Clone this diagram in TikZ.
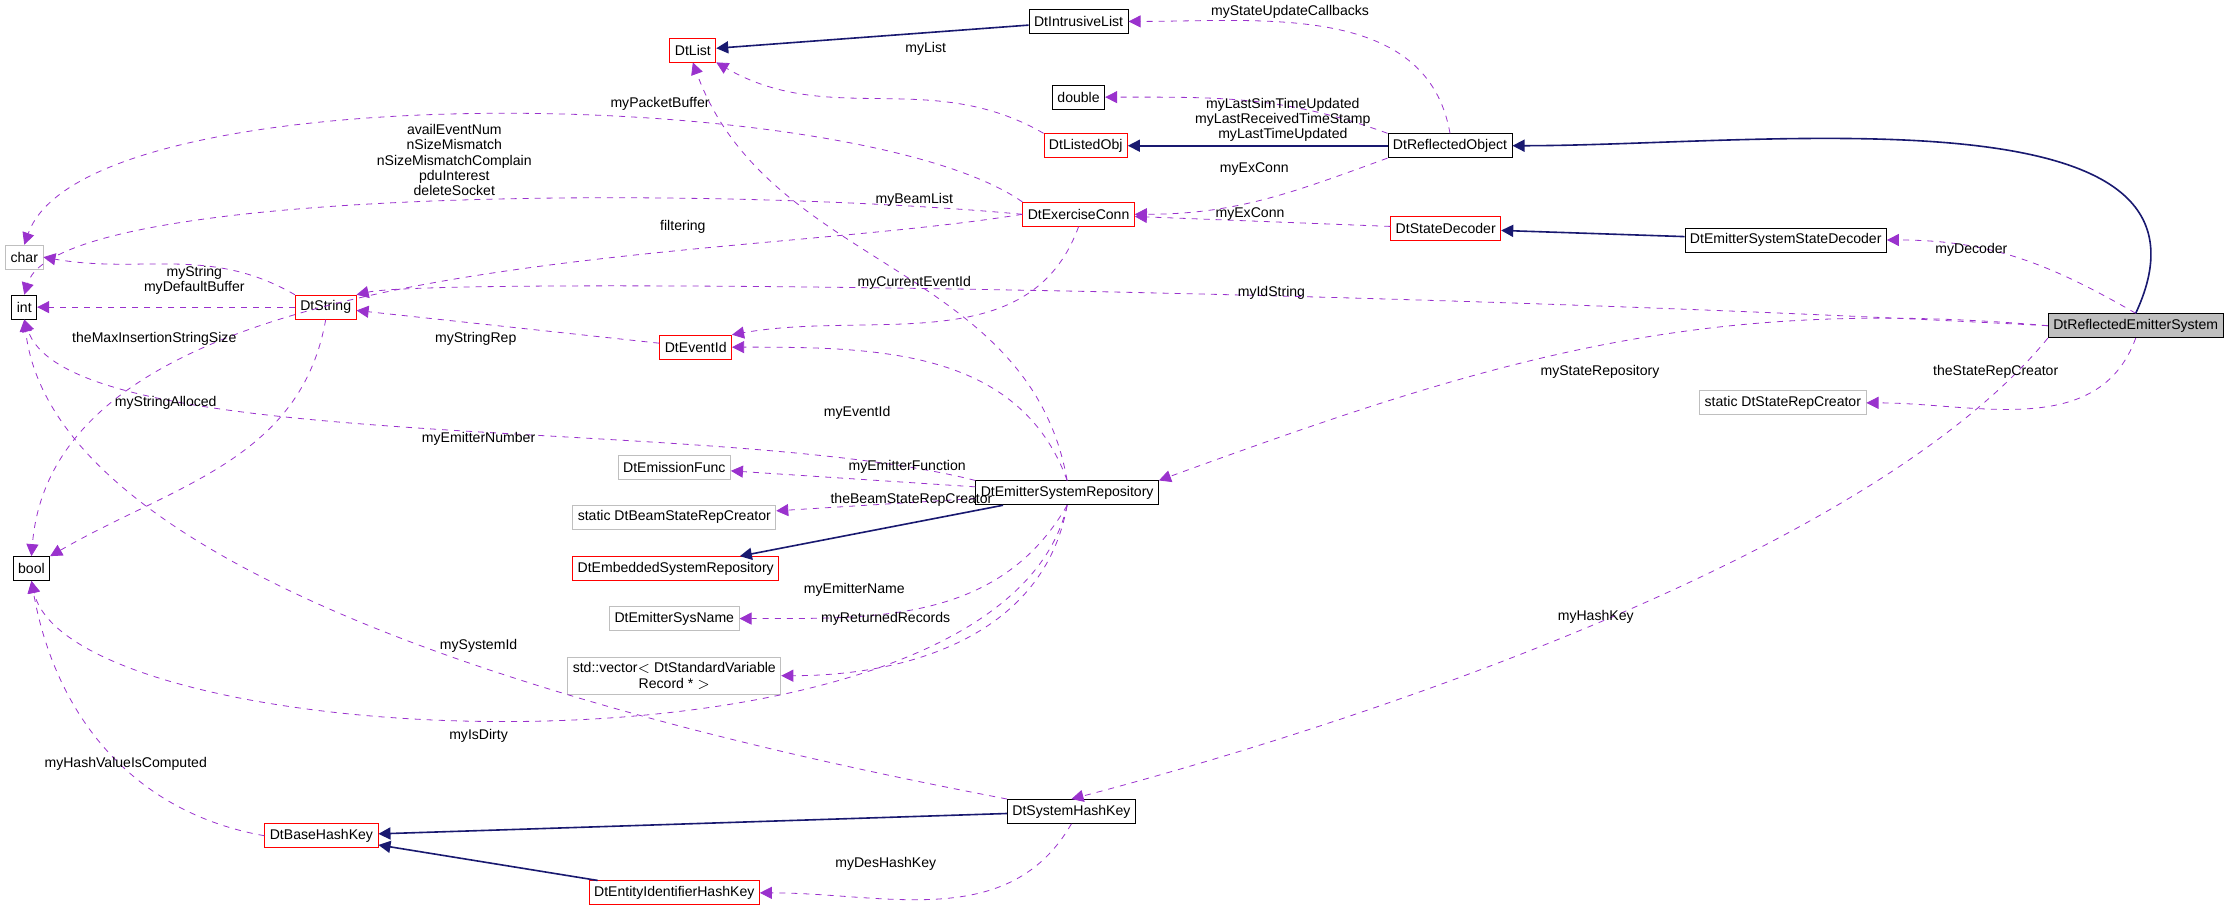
\documentclass[tikz,border=0pt]{standalone}
\usepackage{fontspec}
\setmainfont{Liberation Sans}
\usetikzlibrary{arrows.meta,positioning}
\definecolor{inhcol}{HTML}{191970}
\definecolor{usecol}{HTML}{9A32CD}
\tikzset{
  cls/.style={draw=black,fill=white,font=\fontsize{7}{8}\selectfont,inner sep=2.5pt,minimum height=0.42cm,align=center},
  redcls/.style={cls,draw=red},
  extcls/.style={cls,draw=black!25},
  curcls/.style={cls,fill=black!25},
  inh/.style={draw=inhcol,thick,-{Triangle[open,fill=inhcol,length=6pt,width=6pt]}},
  use/.style={draw=usecol,dashed,-{Triangle[fill=usecol,length=6pt,width=6pt]}},
  lbl/.style={font=\fontsize{7}{7.5}\selectfont,inner sep=0pt,align=center}
}
\begin{document}
\begin{tikzpicture}[x=0.025cm,y=-0.025cm]
\useasboundingbox (0,0) rectangle (1568,636);

% classes
\node[redcls] (list) at (485,35) {DtList};
\node[cls] (ilist) at (755,15) {DtIntrusiveList};
\node[cls] (dbl) at (755,68) {double};
\node[redcls] (lobj) at (760,102) {DtListedObj};
\node[cls] (robj) at (1015,102) {DtReflectedObject};
\node[redcls] (econn) at (755,150) {DtExerciseConn};
\node[redcls] (sdec) at (1012,160) {DtStateDecoder};
\node[cls] (essd) at (1250,168) {DtEmitterSystemStateDecoder};
\node[extcls] (chr) at (17,180) {char};
\node[cls] (int) at (17,215) {int};
\node[redcls] (str) at (228,215) {DtString};
\node[redcls] (evid) at (487,243) {DtEventId};
\node[curcls] (res) at (1495,228) {DtReflectedEmitterSystem};
\node[extcls] (srep) at (1248,282) {static DtStateRepCreator};
\node[extcls] (efunc) at (472,327) {DtEmissionFunc};
\node[cls] (esr) at (747,345) {DtEmitterSystemRepository};
\node[extcls] (bsrep) at (472,362) {static DtBeamStateRepCreator};
\node[redcls] (embr) at (473,398) {DtEmbeddedSystemRepository};
\node[cls] (bool) at (22,398) {bool};
\node[extcls] (sysn) at (472,433) {DtEmitterSysName};
\node[extcls] (vec) at (472,473) {std::vector$<$ DtStandardVariable\\Record * $>$};
\node[cls] (shk) at (750,568) {DtSystemHashKey};
\node[redcls] (bhk) at (225,585) {DtBaseHashKey};
\node[redcls] (eihk) at (472,625) {DtEntityIdentifierHashKey};

% inheritance
\draw[inh] (ilist) -- (list);
\draw[inh] (robj) -- (lobj);
\draw[inh] (res.north) to[out=65,in=0] (robj.east);
\draw[inh] (essd) -- (sdec);
\draw[inh] (esr) -- (embr);
\draw[inh] (shk) -- (bhk);
\draw[inh] (eihk) -- (bhk);

% usage
\draw[use] (robj.north) to[out=100,in=0] (ilist.east);
\draw[use] (robj.north west) to[out=160,in=0] (dbl.east);
\draw[use] (lobj.north west) to[out=150,in=-30] (list.south east);
\draw[use] (robj.south west) to[out=-160,in=0] (econn.east);
\draw[use] (sdec) -- (econn);
\draw[use] (econn.north west) .. controls (600,60) and (60,50) .. (chr.north);
\draw[use] (econn.west) .. controls (500,130) and (40,130) .. (int.north);
\draw[use] (econn.west) .. controls (500,185) and (40,170) .. (bool.north);
\draw[use] (econn.south) to[out=-110,in=10] (evid.north east);
\draw[use] (esr.north) to[out=100,in=-70] (list.south);
\draw[use] (res.west) .. controls (900,200) and (300,195) .. (str.north east);
\draw[use] (res.west) to[out=175,in=20] (esr.north east);
\draw[use] (res.south) to[out=-110,in=0] (srep.east);
\draw[use] (res.north) to[out=150,in=0] (essd.east);
\draw[use] (res.south west) .. controls (1300,400) and (900,520) .. (shk.north);
\draw[use] (str.north west) to[out=150,in=-10] (chr.east);
\draw[use] (str) -- (int);
\draw[use] (str.south) to[out=-100,in=30] (bool.north east);
\draw[use] (evid) -- (str);
\draw[use] (esr.north) to[out=110,in=0] (evid.east);
\draw[use] (esr.north west) .. controls (500,290) and (50,320) .. (int.south);
\draw[use] (esr) -- (efunc);
\draw[use] (esr) -- (bsrep);
\draw[use] (esr.south) to[out=-120,in=0] (sysn.east);
\draw[use] (esr.south) to[out=-100,in=0] (vec.east);
\draw[use] (esr.south) .. controls (700,560) and (50,530) .. (bool.south);
\draw[use] (shk.north west) .. controls (500,520) and (40,420) .. (int.south);
\draw[use] (bhk.west) to[out=170,in=-80] (bool.south);
\draw[use] (shk.south) to[out=-120,in=0] (eihk.east);

% labels
\node[lbl] (l1) at (903,8) {myStateUpdateCallbacks};
\node[lbl] (l2) at (898,84) {myLastSimTimeUpdated\\myLastReceivedTimeStamp\\myLastTimeUpdated};
\node[lbl] (l3) at (648,34) {myList};
\node[lbl] (l4) at (878,118) {myExConn};
\node[lbl] (l5) at (875,150) {myExConn};
\node[lbl] (l6) at (462,73) {myPacketBuffer};
\node[lbl] (l7) at (640,140) {myBeamList};
\node[lbl] (l8) at (318,112) {availEventNum\\nSizeMismatch\\nSizeMismatchComplain\\pduInterest\\deleteSocket};
\node[lbl] (l9) at (478,159) {filtering};
\node[lbl] (l10) at (640,198) {myCurrentEventId};
\node[lbl] (l11) at (890,205) {myIdString};
\node[lbl] (l12) at (1380,175) {myDecoder};
\node[lbl] (l13) at (1120,260) {myStateRepository};
\node[lbl] (l14) at (1397,260) {theStateRepCreator};
\node[lbl] (l15) at (1117,432) {myHashKey};
\node[lbl] (l16) at (136,196) {myString\\myDefaultBuffer};
\node[lbl] (l17) at (108,237) {theMaxInsertionStringSize};
\node[lbl] (l18) at (116,282) {myStringAlloced};
\node[lbl] (l19) at (333,237) {myStringRep};
\node[lbl] (l20) at (600,289) {myEventId};
\node[lbl] (l21) at (335,307) {myEmitterNumber};
\node[lbl] (l22) at (635,327) {myEmitterFunction};
\node[lbl] (l23) at (638,350) {theBeamStateRepCreator};
\node[lbl] (l24) at (598,413) {myEmitterName};
\node[lbl] (l25) at (620,433) {myReturnedRecords};
\node[lbl] (l26) at (335,452) {mySystemId};
\node[lbl] (l27) at (335,515) {myIsDirty};
\node[lbl] (l28) at (88,535) {myHashValueIsComputed};
\node[lbl] (l29) at (620,605) {myDesHashKey};
\end{tikzpicture}
\end{document}
